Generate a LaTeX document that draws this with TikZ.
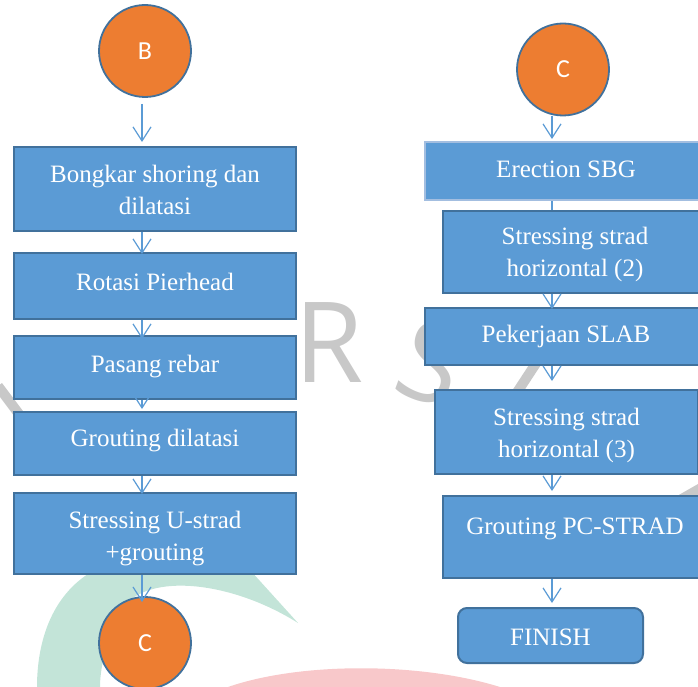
\documentclass[tikz,border=0pt]{standalone}
\usepackage{fontspec}
\setmainfont{Liberation Serif}
\newfontfamily\circfont{Carlito}
\newfontfamily\wmfont{Open Sans}
\usetikzlibrary{arrows.meta,calc}
\definecolor{boxfill}{HTML}{5B9BD5}
\definecolor{boxline}{HTML}{41719C}
\definecolor{paleline}{HTML}{A3BEE0}
\definecolor{circfill}{HTML}{ED7D31}
\definecolor{arrcol}{HTML}{5B9BD5}
\definecolor{wmgray}{HTML}{C8C8C8}
\definecolor{wmgreen}{HTML}{C3E4D8}
\definecolor{wmpink}{HTML}{F8C8CA}
\tikzset{
  flowbox/.style={draw=boxline, line width=2pt, fill=boxfill, inner sep=0pt},
  endbox/.style={flowbox, rounded corners=9pt},
  boxtext/.style={text=white, font=\fontsize{25}{32}\selectfont, align=center, inner sep=0pt},
  conn/.style={draw=boxline, line width=1.8pt, fill=circfill, circle,
    minimum size=92pt, inner sep=0pt, text=white, font=\circfont\fontsize{26}{30}\selectfont},
  arr/.style={draw=arrcol, line width=1.2pt, -{Straight Barb[length=14pt,width=18pt]}},
  plainarr/.style={draw=arrcol, line width=1.2pt},
  wmtext/.style={text=wmgray, font=\wmfont\fontsize{112}{112}\selectfont, inner sep=0pt}
}
\begin{document}
\begin{tikzpicture}[x=1pt,y=-1pt]
\useasboundingbox (0,0) rectangle (698,687);
\clip (0,0) rectangle (698,687);
% watermark
\fill[wmgreen] (37,687) .. controls (37,600) and (90,520) .. (250,570) -- (298,623)
  .. controls (230,580) and (140,570) .. (118,615) .. controls (105,645) and (100,670) .. (100,687) -- cycle;
\fill[wmpink] (228,687) .. controls (300,662) and (420,662) .. (500,687) -- cycle;
\node[wmtext, anchor=base west] (wmR) at (294,382) {R};
\node[wmtext, rotate=-20] (wmS) at (432,362) {S};
\draw[wmgray, line width=10pt] (-2,386) -- (22,418);
\draw[wmgray, line width=10pt] (548,345) -- (512,400);
\fill[wmgray] (677,496) -- (698,484) -- (698,496) -- cycle;
% axes for connectors
\coordinate (ax) at (142,0);
\coordinate (bx) at (552,0);
% left column
\node[conn] (B) at (145,51) {B};
\node[flowbox, minimum width=282pt, minimum height=84pt,
  label={[boxtext, yshift=-1pt]center:{Bongkar shoring dan\\dilatasi}}] (b1) at (155,189) {};
\node[flowbox, minimum width=282pt, minimum height=66pt,
  label={[boxtext, yshift=4pt]center:{Rotasi Pierhead}}] (b2) at (155,286) {};
\node[flowbox, minimum width=282pt, minimum height=63pt,
  label={[boxtext, yshift=1pt]center:{Pasang rebar}}] (b3) at (155,367.5) {};
\node[flowbox, minimum width=282pt, minimum height=63pt,
  label={[boxtext, yshift=3pt]center:{Grouting dilatasi}}] (b4) at (155,443.5) {};
\node[flowbox, minimum width=282pt, minimum height=81pt,
  label={[boxtext, yshift=-5pt]center:{Stressing U-strad\\+grouting}}] (b5) at (155,533.5) {};
\node[conn] (C1) at (145,643) {C};
% right column
\node[conn] (C2) at (563,69.5) {C};
\node[flowbox, draw=paleline, minimum width=282pt, minimum height=58pt,
  label={[boxtext, yshift=2pt]center:{Erection SBG}}] (e1) at (566,171) {};
\node[flowbox, minimum width=264pt, minimum height=82pt,
  label={[boxtext, yshift=-2pt]center:{Stressing strad\\horizontal (2)}}] (e2) at (575,252) {};
\node[flowbox, minimum width=282pt, minimum height=57pt,
  label={[boxtext]center:{Pekerjaan SLAB}}] (e3) at (566,336.5) {};
\node[flowbox, minimum width=263pt, minimum height=84pt,
  label={[boxtext, yshift=-3pt]center:{Stressing strad\\horizontal (3)}}] (e4) at (566.5,432) {};
\node[flowbox, minimum width=264pt, minimum height=82pt,
  label={[boxtext, yshift=8pt]center:{Grouting PC-STRAD}}] (e5) at (575,537) {};
\node[endbox, minimum width=185pt, minimum height=55pt,
  label={[boxtext, yshift=-2pt]center:{FINISH}}] (fin) at (550.5,635.5) {};
% connectors left
\draw[arr, shorten <=6pt, shorten >=4pt] (B.south -| ax) -- (b1.north -| ax);
\draw[arr, shorten >=-2pt] (b1.south -| ax) -- (b2.north -| ax);
\draw[arr, shorten >=-4pt] (b2.south -| ax) -- (b3.north -| ax);
\draw[arr, shorten >=2pt] (b3.south -| ax) -- (b4.north -| ax);
\draw[arr, shorten >=-2pt] (b4.south -| ax) -- (b5.north -| ax);
\draw[arr, shorten >=-6pt] (b5.south -| ax) -- (C1.north -| ax);
% connectors right
\draw[arr, shorten >=2pt] (C2.south -| bx) -- (e1.north -| bx);
\draw[plainarr] (e1.south -| bx) -- (e2.north -| bx);
\draw[arr, shorten >=-2pt] (e2.south -| bx) -- (e3.north -| bx);
\draw[arr, shorten >=8pt] (e3.south -| bx) -- (e4.north -| bx);
\draw[arr, shorten >=4pt] (e4.south -| bx) -- (e5.north -| bx);
\draw[arr, shorten >=4pt] (e5.south -| bx) -- (fin.north -| bx);
\end{tikzpicture}
\end{document}
